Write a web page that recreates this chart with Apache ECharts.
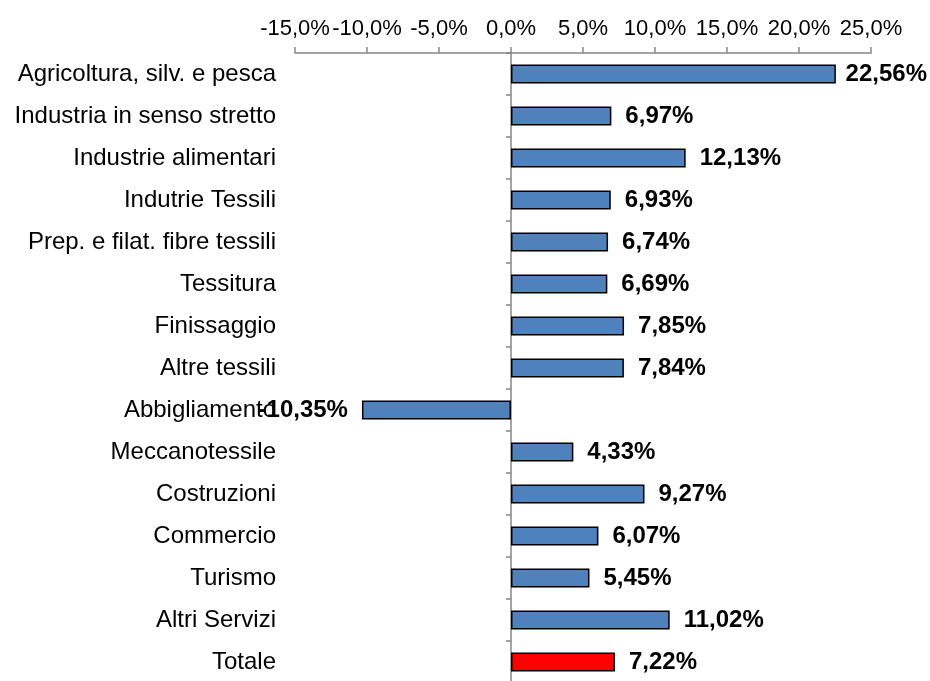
<!DOCTYPE html>
<html>
<head>
    <meta charset="utf-8"/>
    <title>Variazione per settore</title>
    <script src="https://cdn.jsdelivr.net/npm/echarts@6/dist/echarts.min.js"></script>
    <style>
        html, body { margin: 0; padding: 0; background: #fff; }
        #myChart { width: 930px; height: 681px; }
    </style>
</head>
<body>
<div id="myChart"></div>
<script>
    // dati
    var categories = ['Agricoltura, silv. e pesca', 'Industria in senso stretto', 'Industrie alimentari',
        'Indutrie Tessili', 'Prep. e filat. fibre tessili', 'Tessitura', 'Finissaggio', 'Altre tessili',
        'Abbigliamento', 'Meccanotessile', 'Costruzioni', 'Commercio', 'Turismo', 'Altri Servizi', 'Totale'];
    var values = [22.56, 6.97, 12.13, 6.93, 6.74, 6.69, 7.85, 7.84, -10.35, 4.33, 9.27, 6.07, 5.45, 11.02, 7.22];
    var colors = ['#4F81BD', '#4F81BD', '#4F81BD', '#4F81BD', '#4F81BD', '#4F81BD', '#4F81BD', '#4F81BD',
        '#4F81BD', '#4F81BD', '#4F81BD', '#4F81BD', '#4F81BD', '#4F81BD', '#FF0000'];

    var fmt = function (v, d) {
        return v.toFixed(d).replace('.', ',') + '%';
    };

    var seriesData = values.map(function (v, i) {
        return {
            value: v,
            itemStyle: { color: colors[i] },
            label: { position: v < 0 ? 'left' : 'right' }
        };
    });

    var myChart = echarts.init(document.getElementById('myChart'));
    var option = {
        animation: false,
        grid: { left: 295, right: 59, top: 53, height: 630, containLabel: false, outerBoundsMode: 'none' },
        xAxis: {
            type: 'value',
            position: 'top',
            min: -15,
            max: 25,
            interval: 5,
            splitLine: { show: false },
            axisLine: { show: true, lineStyle: { color: '#868686', width: 1.5 } },
            axisTick: { show: true, length: 6, lineStyle: { color: '#868686', width: 1.5 } },
            axisLabel: {
                margin: 13,
                color: '#000',
                fontFamily: 'Liberation Sans, Arial',
                fontSize: 22,
                width: 64,
                overflow: 'none',
                showMinLabel: true,
                showMaxLabel: true,
                hideOverlap: false,
                formatter: function (v) { return fmt(v, 1); }
            }
        },
        yAxis: {
            type: 'category',
            inverse: true,
            data: categories,
            axisLine: { show: true, onZero: true, lineStyle: { color: '#868686', width: 1.5 } },
            axisTick: { show: true, length: 5, lineStyle: { color: '#868686', width: 1.5 } },
            axisLabel: {
                margin: 19,
                color: '#000',
                fontFamily: 'Liberation Sans, Arial',
                fontSize: 24
            }
        },
        series: [{
            type: 'bar',
            data: seriesData,
            barWidth: 19,
            itemStyle: { borderColor: '#000', borderWidth: 1.5 },
            label: {
                show: true,
                distance: 14,
                color: '#000',
                fontWeight: 'bold',
                fontFamily: 'Liberation Sans, Arial',
                fontSize: 24,
                formatter: function (p) { return fmt(p.value, 2); }
            },
            // tiene le etichette dentro l'area del grafico
            labelLayout: function (p) {
                var over = p.labelRect.x + p.labelRect.width - 927;
                return over > 0 ? { dx: -over } : {};
            }
        }]
    };
    myChart.setOption(option);
</script>
</body>
</html>
